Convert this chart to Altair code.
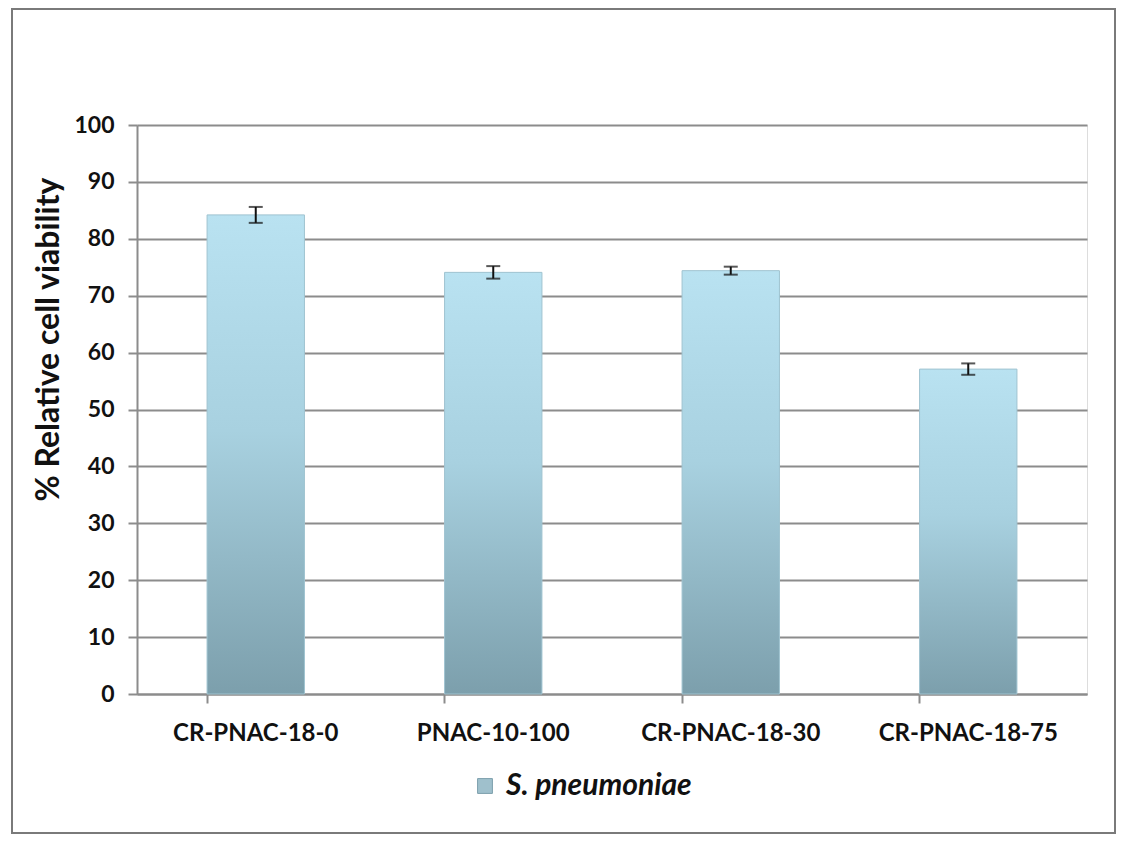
import altair as alt
import pandas as pd

categories = ["CR-PNAC-18-0", "PNAC-10-100", "CR-PNAC-18-30", "CR-PNAC-18-75"]
viability = [84.2, 74.1, 74.4, 57.1]
errors = [1.4, 1.1, 0.7, 1.0]
series = ["S. pneumoniae"] * 4

df = pd.DataFrame({
    "cat": categories,
    "val": viability,
    "lo": [v - e for v, e in zip(viability, errors)],
    "hi": [v + e for v, e in zip(viability, errors)],
    "series": series,
})

FONT = "Lato"
W, H = 950, 569

x = alt.X("cat:N", sort=categories, title=None,
          scale=alt.Scale(paddingInner=0.59, paddingOuter=0.295),
          axis=alt.Axis(labelAngle=0, labelFont=FONT, labelFontSize=24, labelFontWeight="bold",
                        labelColor="#111", labelPadding=18, domainColor="#8c8c8c", domainWidth=2,
                        tickColor="#8c8c8c", tickWidth=2, tickSize=9, bandPosition=0, grid=False))
y = alt.Y("val:Q", title="% Relative cell viability",
          scale=alt.Scale(domain=[0, 100]),
          axis=alt.Axis(values=list(range(0, 101, 10)), labelFont=FONT, labelFontSize=23,
                        labelFontWeight="bold", labelColor="#111", labelPadding=14,
                        titleFont=FONT, titleFontSize=32, titleFontWeight="bold", titleColor="#111",
                        titlePadding=8, titleY=214, titleAlign="center",
                        domainColor="#8c8c8c", domainWidth=2,
                        tickColor="#8c8c8c", tickWidth=2, tickSize=9,
                        grid=True, gridColor="#8c8c8c", gridWidth=2))

frame = alt.Chart(df.head(1)).mark_rect(fill=None, stroke="#7a7a7a", strokeWidth=2, clip=False).encode(
    x=alt.value(-125), x2=alt.value(W + 28), y=alt.value(-116), y2=alt.value(H + 139))

bars = alt.Chart(df).mark_bar(
    color=alt.Gradient(gradient="linear", x1=0, x2=0, y1=0, y2=1,
                       stops=[alt.GradientStop(color="#b9e2f1", offset=0),
                              alt.GradientStop(color="#a8d1e0", offset=0.45),
                              alt.GradientStop(color="#7c9fac", offset=1)]),
    stroke="#9fc3d0", strokeWidth=1
).encode(x=x, y=y)

legend_layer = alt.Chart(df).mark_bar(opacity=0).encode(
    color=alt.Color("series:N", title=None,
                    scale=alt.Scale(range=["#9fc0cc"]),
                    legend=alt.Legend(orient="none", legendX=333, legendY=646,
                                      symbolType="square", symbolSize=220, symbolStrokeColor="#7c9fac",
                                      symbolStrokeWidth=1,
                                      labelFont=FONT, labelFontSize=30, labelFontWeight="bold",
                                      labelFontStyle="italic", labelColor="#111", labelOffset=6,
                                      labelLimit=400)),
    x=alt.X("cat:N", sort=categories), y=alt.Y("val:Q"))

err = alt.Chart(df).mark_rule(color="#111", strokeWidth=2).encode(
    x=alt.X("cat:N", sort=categories), y="lo:Q", y2="hi:Q")
cap_lo = alt.Chart(df).mark_tick(color="#111", thickness=2, size=14, orient="horizontal").encode(
    x=alt.X("cat:N", sort=categories), y="lo:Q")
cap_hi = alt.Chart(df).mark_tick(color="#111", thickness=2, size=14, orient="horizontal").encode(
    x=alt.X("cat:N", sort=categories), y="hi:Q")

chart = alt.layer(frame, bars, legend_layer, err, cap_lo, cap_hi).properties(
    width=W, height=H,
    autosize=alt.AutoSizeParams(type="none"),
    padding={"left": 129, "top": 117, "right": 31, "bottom": 140},
).configure_view(stroke=None).configure(background="white")

chart.save("out.html", embed_options={"renderer": "svg", "actions": False})
